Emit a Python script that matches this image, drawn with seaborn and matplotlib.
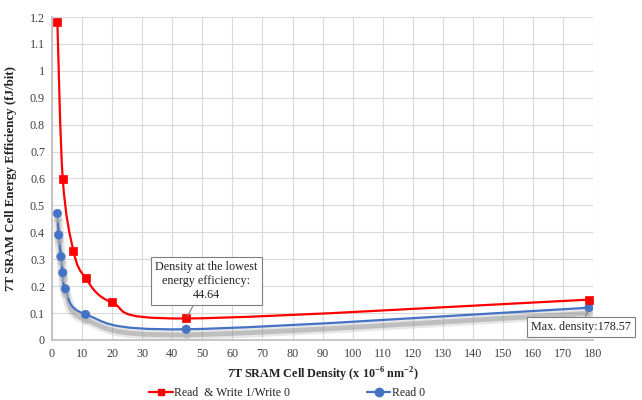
import numpy as np
import matplotlib
matplotlib.use("Agg")
import matplotlib.pyplot as plt
import matplotlib.patheffects as pe
from matplotlib.path import Path
from matplotlib.patches import PathPatch
from matplotlib.lines import Line2D
from matplotlib.ticker import FuncFormatter, MultipleLocator
import seaborn as sns

# --- data ---
rw_density = [1.79, 3.57, 7.14, 11.16, 19.84, 44.64, 178.57]
rw_energy = [1.18, 0.60, 0.33, 0.23, 0.14, 0.08, 0.15]
r0_density = [1.79, 2.23, 2.98, 3.57, 4.46, 11.16, 44.64, 178.57]
r0_energy = [0.47, 0.39, 0.31, 0.25, 0.19, 0.095, 0.04, 0.12]
series_names = ["Read  & Write 1/Write 0", "Read 0"]
min_label = "Density at the lowest\nenergy efficiency:\n44.64"
max_label = "Max. density:178.57"

RED = "#ff0000"
BLUE = "#4472c4"

sns.set_theme(style="whitegrid")
plt.rcParams["font.family"] = ["Liberation Serif", "DejaVu Serif"]
plt.rcParams["mathtext.fontset"] = "custom"
plt.rcParams["mathtext.rm"] = "Liberation Serif"
plt.rcParams["mathtext.bf"] = "Liberation Serif:bold"


def smooth_path(xs, ys):
    # Excel-style smoothed line: cubic bezier through every point
    pts = np.column_stack([xs, ys]).astype(float)
    n = len(pts)
    verts = [pts[0]]
    codes = [Path.MOVETO]
    for i in range(n - 1):
        p0 = pts[i - 1] if i > 0 else pts[i]
        p1, p2 = pts[i], pts[i + 1]
        p3 = pts[i + 2] if i + 2 < n else pts[i + 1]
        c1 = p1 + (p2 - p0) / 6.0
        c2 = p2 - (p3 - p1) / 6.0
        verts += [c1, c2, p2]
        codes += [Path.CURVE4] * 3
    return Path(verts, codes)


fig = plt.figure(figsize=(6.42, 4.0), dpi=100)
ax = fig.add_axes([0.081, 0.15, 0.843, 0.8075])

shadow = [
    pe.SimpleLineShadow(offset=(0.5, -4), shadow_color="#a0a0a0", alpha=0.25, linewidth=7),
    pe.SimpleLineShadow(offset=(0.5, -4), shadow_color="#909090", alpha=0.45, linewidth=3.5),
    pe.Normal(),
]

ax.add_patch(PathPatch(smooth_path(r0_density, r0_energy), fill=False,
                       edgecolor=BLUE, lw=1.6, path_effects=shadow, zorder=3))
ax.add_patch(PathPatch(smooth_path(rw_density, rw_energy), fill=False,
                       edgecolor=RED, lw=1.6, zorder=4))

sns.scatterplot(x=r0_density, y=r0_energy, ax=ax, marker="o", s=36, color=BLUE,
                edgecolor=BLUE, linewidth=0.5, zorder=5,
                path_effects=[pe.SimplePatchShadow(offset=(0.5, -4), shadow_rgbFace="#b8b8b8",
                                                   alpha=0.6), pe.Normal()])
sns.scatterplot(x=rw_density, y=rw_energy, ax=ax, marker="s", s=26, color=RED,
                edgecolor=RED, linewidth=0.5, zorder=6)

ax.set_xlim(0, 180)
ax.set_ylim(0, 1.2)
ax.xaxis.set_major_locator(MultipleLocator(10))
ax.yaxis.set_major_locator(MultipleLocator(0.1))
ax.yaxis.set_major_formatter(FuncFormatter(lambda v, p: f"{round(v, 2):g}"))
ax.grid(True, color="#d9d9d9", lw=0.8)
for s in ax.spines.values():
    s.set_visible(False)
ax.spines["bottom"].set_visible(True)
ax.spines["bottom"].set_color("#bfbfbf")
ax.spines["left"].set_visible(True)
ax.spines["left"].set_color("#bfbfbf")
ax.tick_params(labelsize=8.7, colors="#404040", length=0)
ax.tick_params(axis="x", pad=6)
ax.tick_params(axis="y", pad=5)

ax.set_xlabel(r"7T SRAM Cell Density (x 10$^{\mathbf{-6}}$ nm$^{\mathbf{-2}}$)",
              fontsize=8.7, fontweight="bold", color="#222222", labelpad=4)
ax.set_ylabel("7T SRAM Cell Energy Efficiency (fJ/bit)", fontsize=9.3,
              fontweight="bold", color="#222222", labelpad=9)

box = dict(boxstyle="square,pad=0.35", fc="white", ec="#7f7f7f", lw=0.8)
ax.annotate(min_label, xy=(rw_density[5], rw_energy[5]), xytext=(51.3, 0.219),
            ha="center", va="center", fontsize=8.7, color="#222222", bbox=box,
            arrowprops=dict(arrowstyle="-", color="#7f7f7f", lw=0.8, shrinkA=0, shrinkB=2),
            zorder=8)
ax.annotate(max_label, xy=(r0_density[-1], r0_energy[-1]), xytext=(176, 0.048),
            ha="center", va="center", fontsize=8.7, color="#222222", bbox=box,
            arrowprops=dict(arrowstyle="-", color="#7f7f7f", lw=0.8, shrinkA=0, shrinkB=2),
            annotation_clip=False, zorder=8)

handles = [
    Line2D([], [], color=RED, lw=1.6, marker="s", markersize=5),
    Line2D([], [], color=BLUE, lw=1.6, marker="o", markersize=6),
]
fig.legend(handles, series_names, loc="center", bbox_to_anchor=(0.447, 0.018), ncol=2,
           frameon=False, fontsize=8.5, handlelength=2.0, handletextpad=0.1,
           columnspacing=6.5, labelcolor="#222222")

fig.savefig("out.png", dpi=100)
